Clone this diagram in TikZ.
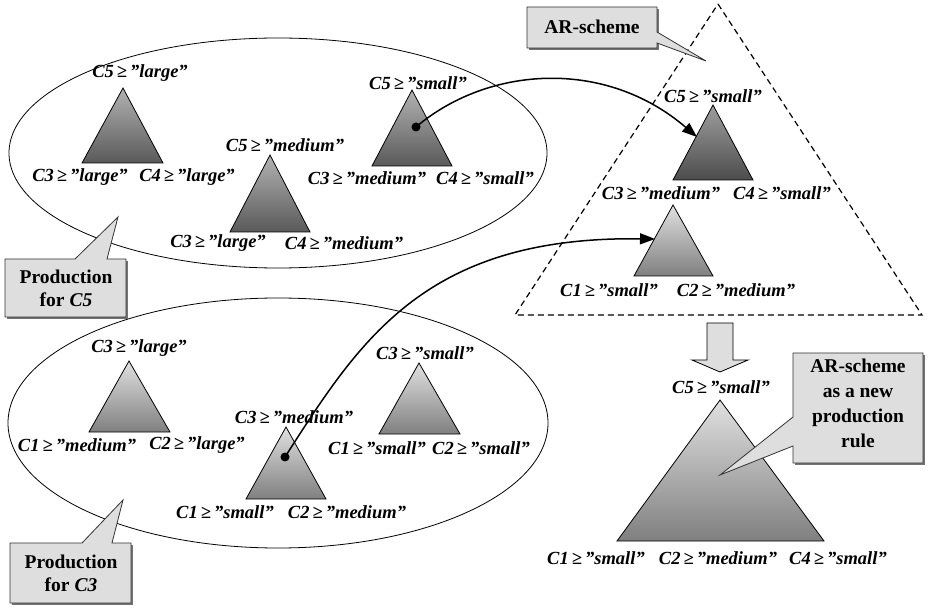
\documentclass[tikz,border=0pt]{standalone}
\usepackage{fontspec}
\setmainfont{Liberation Serif}
\usetikzlibrary{shapes.geometric,arrows.meta}

\tikzset{
  lbl/.style={font=\fontsize{18.5}{20}\selectfont\bfseries\itshape, inner sep=0pt},
  note/.style={font=\fontsize{19.5}{23}\selectfont\bfseries, align=center, inner sep=0pt},
  group/.style={draw, ellipse, line width=0.8pt, inner sep=0pt},
  tridark/.style={draw, line width=0.8pt, top color=black!30, bottom color=black!65},
  trideep/.style={draw, line width=0.8pt, top color=black!38, bottom color=black!70},
  trilight/.style={draw, line width=0.8pt, top color=black!12, bottom color=black!50},
  callout/.style={draw=black!80, line width=0.8pt, fill=black!13},
  shadow/.style={fill=black!55, draw=none},
  link/.style={line width=1.5pt, -{Triangle[length=15pt,width=11pt]}},
  dot/.style={circle, fill=black, inner sep=0pt, minimum size=9pt},
  scheme/.style={line width=1.2pt, dash pattern=on 6pt off 4pt},
}

\begin{document}
\begin{tikzpicture}[x=1pt,y=-1pt]
\useasboundingbox (0,0) rectangle (929,609);

% production groups
\node[group, minimum width=538pt, minimum height=230pt] (prodC5) at (278,153) {};
\node[group, minimum width=540pt, minimum height=250pt] (prodC3) at (278,423) {};

% AR-scheme outline
\draw[scheme] (718,4) -- (922,315) -- (515,315) -- cycle;

% rules producing C5
\draw[tridark] (123,88) -- (163,163) -- (82,163) -- cycle;
\draw[tridark] (270,155) -- (310,232) -- (230,232) -- cycle;
\draw[tridark] (412,90) -- (452,166) -- (372,166) -- cycle;
\node[lbl] (a1) at (140,73) {C5\,≥\,”large”};
\node[lbl] (a2) at (80,177) {C3\,≥\,”large”};
\node[lbl] (a3) at (187,177) {C4\,≥\,”large”};
\node[lbl] (b1) at (285,145) {C5\,≥\,”medium”};
\node[lbl] (b2) at (218,243) {C3\,≥\,”large”};
\node[lbl] (b3) at (344,243) {C4\,≥\,”medium”};
\node[lbl] (c1) at (418,83) {C5\,≥\,”small”};
\node[lbl] (c2) at (367,178) {C3\,≥\,”medium”};
\node[lbl] (c3) at (485,178) {C4\,≥\,”small”};

% rules producing C3
\draw[trilight] (129,361) -- (170,432) -- (89,432) -- cycle;
\draw[trilight] (286,427) -- (326,499) -- (246,499) -- cycle;
\draw[trilight] (419,363) -- (460,434) -- (379,434) -- cycle;
\node[lbl] (d1) at (139,348) {C3\,≥\,”large”};
\node[lbl] (d2) at (77,445) {C1\,≥\,”medium”};
\node[lbl] (d3) at (197,445) {C2\,≥\,”large”};
\node[lbl] (e1) at (294,417) {C3\,≥\,”medium”};
\node[lbl] (e2) at (225,512) {C1\,≥\,”small”};
\node[lbl] (e3) at (347,512) {C2\,≥\,”medium”};
\node[lbl] (f1) at (425,353) {C3\,≥\,”small”};
\node[lbl] (f2) at (377,448) {C1\,≥\,”small”};
\node[lbl] (f3) at (481,448) {C2\,≥\,”small”};

% rules inside the AR-scheme
\draw[trideep] (713,105) -- (753,180) -- (673,180) -- cycle;
\draw[trilight] (673,205) -- (713,276) -- (634,276) -- cycle;
\node[lbl] (g1) at (713,96) {C5\,≥\,”small”};
\node[lbl] (g2) at (661,193) {C3\,≥\,”medium”};
\node[lbl] (g3) at (782,193) {C4\,≥\,”small”};
\node[lbl] (h2) at (609,290) {C1\,≥\,”small”};
\node[lbl] (h3) at (736,290) {C2\,≥\,”medium”};

% block arrow down to the new rule
\draw[line width=0.8pt, fill=black!13] (707,323) -- (733,323) -- (733,360) -- (748,360)
  -- (720,372) -- (692,360) -- (707,360) -- cycle;

% the new production rule
\draw[trilight] (720,400) -- (824,541) -- (617,541) -- cycle;
\node[lbl] (k1) at (721,387) {C5\,≥\,”small”};
\node[lbl] (k2) at (596,558) {C1\,≥\,”small”};
\node[lbl] (k3) at (718,558) {C2\,≥\,”medium”};
\node[lbl] (k4) at (838,558) {C4\,≥\,”small”};

% links from the selected rules into the AR-scheme
\node[dot] (srcC5) at (416,127) {};
\node[dot] (srcC3) at (285,457) {};
\coordinate (dstC5) at (697,137);
\coordinate (dstC3) at (655,239);
\draw[link] (srcC5.center) .. controls (488,66) and (605,58) .. (dstC5);
\draw[link] (srcC3.center) .. controls (360,340) and (425,236) .. (dstC3);

% callouts
\fill[shadow] (7,261) rectangle (128,319);
\draw[callout] (5,259) -- (75,259) -- (118,217) -- (107,259) -- (126,259)
  -- (126,317) -- (5,317) -- cycle;
\node[note] (nC5) at (66,288) {Production\\for \textit{C5}};

\fill[shadow] (12,545) rectangle (133,605);
\draw[callout] (10,543) -- (82,543) -- (123,500) -- (112,543) -- (131,543)
  -- (131,603) -- (10,603) -- cycle;
\node[note] (nC3) at (71,573) {Production\\for \textit{C3}};

\fill[shadow] (529,9) rectangle (659,50);
\draw[callout] (527,7) -- (657,7) -- (657,32) -- (706,61) -- (657,43)
  -- (657,48) -- (527,48) -- cycle;
\node[note] (nAR) at (592,27) {AR-scheme};

\fill[shadow] (795,355) rectangle (925,465);
\draw[callout] (793,353) -- (923,353) -- (923,463) -- (793,463) -- (793,446)
  -- (720,475) -- (793,417) -- cycle;
\node[note, font=\fontsize{19.5}{25}\selectfont\bfseries] (nNew) at (858,403)
  {AR-scheme\\as a new\\production\\rule};
\end{tikzpicture}
\end{document}
